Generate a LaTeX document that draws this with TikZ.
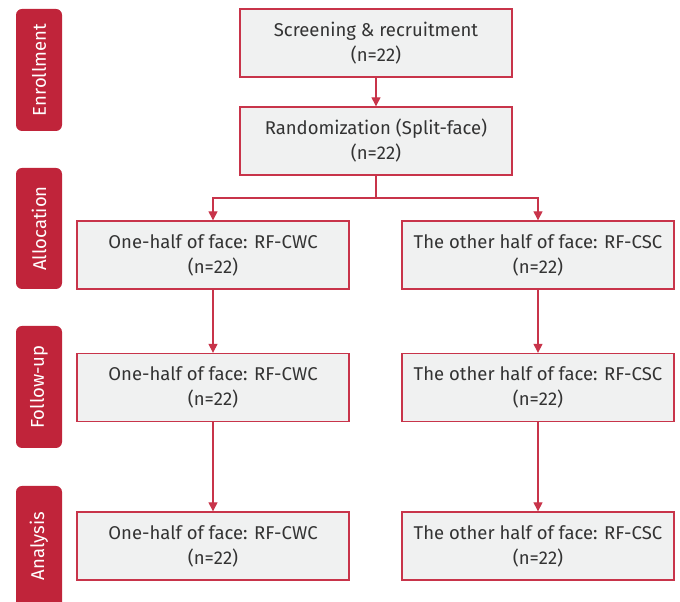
\documentclass[tikz,border=0pt]{standalone}
\usepackage{fontspec}
\setmainfont{Fira Sans}
\usetikzlibrary{arrows.meta}
\definecolor{tabred}{HTML}{C0243A}
\definecolor{boxred}{HTML}{C8344A}
\definecolor{boxfill}{HTML}{F0F1F1}
\definecolor{txt}{HTML}{333333}
\tikzset{
  x=1pt, y=1pt,
  flowbox/.style={draw=boxred, line width=1.3pt, fill=boxfill, minimum width=272pt, minimum height=68pt,
    inner sep=0pt, align=center, text=txt, font=\fontsize{18.5}{25}\selectfont},
  tabbox/.style={fill=tabred, rounded corners=6pt, minimum width=46pt, inner sep=0pt},
  tablabel/.style={rotate=90, text=white, font=\fontsize{18.5}{22}\selectfont},
  conn/.style={draw=boxred, line width=1.1pt, -{Triangle[width=9pt,length=9pt]}},
}
\begin{document}
\begin{tikzpicture}
\useasboundingbox (0,0) rectangle (680,602);
% tabs
\node[tabbox, minimum height=122pt] (t1) at (39,532) {};
\node[tablabel] (t1l) at (t1) {Enrollment};
\node[tabbox, minimum height=121pt] (t2) at (39,373.5) {};
\node[tablabel] (t2l) at (t2) {Allocation};
\node[tabbox, minimum height=122pt] (t3) at (39,215) {};
\node[tablabel] (t3l) at (t3) {Follow-up};
\node[tabbox, minimum height=124pt] (t4) at (39,54) {};
\node[tablabel] (t4l) at (39,56) {Analysis};
% boxes
\node[flowbox] (scr) at (376,559) {Screening \& recruitment\\(n=22)};
\node[flowbox] (rnd) at (376,461) {Randomization (Split-face)\\(n=22)};
\node[flowbox] (a1) at (213,347) {One-half of face: RF-CWC\\(n=22)};
\node[flowbox] (a2) at (538,347) {The other half of face: RF-CSC\\(n=22)};
\node[flowbox] (f1) at (213,214.5) {One-half of face: RF-CWC\\(n=22)};
\node[flowbox] (f2) at (538,214.5) {The other half of face: RF-CSC\\(n=22)};
\node[flowbox] (n1) at (213,56) {One-half of face: RF-CWC\\(n=22)};
\node[flowbox] (n2) at (538,56) {The other half of face: RF-CSC\\(n=22)};
% connectors
\coordinate (split) at (376,404);
\draw[conn] (scr) -- (rnd);
\draw[conn] (rnd.south) -- (split) -| (a1.north);
\draw[conn] (split) -| (a2.north);
\draw[conn] (a1) -- (f1);
\draw[conn] (a2) -- (f2);
\draw[conn] (f1) -- (n1);
\draw[conn] (f2) -- (n2);
\end{tikzpicture}
\end{document}
